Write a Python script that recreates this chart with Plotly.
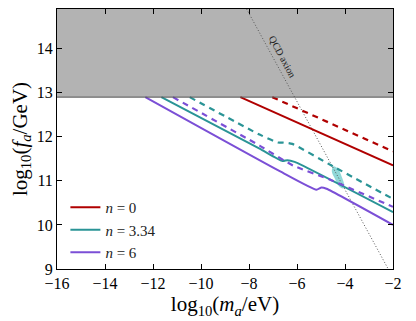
import plotly.graph_objects as go

# data (log10 m_a / eV, log10 f_a / GeV)
red_solid_x = [-8.36, -2.0]
red_solid_y = [12.9, 11.35]
red_dash_x = [-7.03, -2.0]
red_dash_y = [12.9, 11.67]

teal_solid_x = [-11.65, -7.56, -6.6, -6.4, -6.1, -2.0]
teal_solid_y = [12.9, 11.73, 11.45, 11.47, 11.43, 10.29]
teal_dash_x = [-10.47, -7.56, -6.8, -6.5, -6.2, -4.5, -2.0]
teal_dash_y = [12.9, 12.05, 11.87, 11.87, 11.84, 11.33, 10.59]

purple_solid_x = [-12.32, -6.72, -5.19, -4.98, -4.77, -2.0]
purple_solid_y = [12.9, 11.22, 10.8, 10.85, 10.82, 10.0]
purple_dash_x = [-11.17, -7.56, -6.17, -4.64, -2.0]
purple_dash_y = [12.9, 11.8, 11.35, 11.03, 10.41]

blob_x = [-4.48, -4.3, -4.14, -4.03, -4.08, -4.25, -4.42, -4.55, -4.48]
blob_y = [11.33, 11.28, 11.1, 10.9, 10.83, 10.88, 11.05, 11.22, 11.33]

qcd_x = [-8.1, -2.2]
qcd_y = [14.9, 9.0]

excluded_y = 12.9
x_range = [-16, -2]
y_range = [9, 14.9]

red = "#b00000"
teal = "#2a9496"
purple = "#7b4fd6"
serif = "Liberation Serif"

fig = go.Figure()

# grey excluded region
fig.add_shape(type="rect", xref="x", yref="y", x0=x_range[0], x1=x_range[1],
              y0=excluded_y, y1=y_range[1], fillcolor="#b3b3b3",
              line=dict(width=0), layer="below")
fig.add_shape(type="line", xref="x", yref="y", x0=x_range[0], x1=x_range[1],
              y0=excluded_y, y1=excluded_y, line=dict(color="#555555", width=1))

fig.add_trace(go.Scatter(x=blob_x, y=blob_y, mode="lines", fill="toself",
                         fillcolor="rgba(70,190,190,0.6)", line=dict(width=0, shape="spline"),
                         showlegend=False, hoverinfo="skip"))

fig.add_trace(go.Scatter(x=qcd_x, y=qcd_y, mode="lines", showlegend=False,
                         line=dict(color="#555555", width=1, dash="1px,2px")))

fig.add_trace(go.Scatter(x=red_solid_x, y=red_solid_y, mode="lines", name="<i>n</i> = 0",
                         line=dict(color=red, width=2)))
fig.add_trace(go.Scatter(x=teal_solid_x, y=teal_solid_y, mode="lines", name="<i>n</i> = 3.34",
                         line=dict(color=teal, width=2, shape="spline", smoothing=0.5)))
fig.add_trace(go.Scatter(x=purple_solid_x, y=purple_solid_y, mode="lines", name="<i>n</i> = 6",
                         line=dict(color=purple, width=2, shape="spline", smoothing=0.5)))

fig.add_trace(go.Scatter(x=red_dash_x, y=red_dash_y, mode="lines", showlegend=False,
                         line=dict(color=red, width=2.2, dash="6px,5px")))
fig.add_trace(go.Scatter(x=teal_dash_x, y=teal_dash_y, mode="lines", showlegend=False,
                         line=dict(color=teal, width=2.2, dash="6px,5px", shape="spline", smoothing=0.5)))
fig.add_trace(go.Scatter(x=purple_dash_x, y=purple_dash_y, mode="lines", showlegend=False,
                         line=dict(color=purple, width=2.2, dash="6px,5px", shape="spline", smoothing=0.5)))

fig.add_annotation(x=-6.6, y=13.83, text="QCD axion", showarrow=False, textangle=62,
                   font=dict(family=serif, size=10, color="#222222"))

axis_common = dict(showline=True, linecolor="black", linewidth=1, mirror="ticks",
                   ticks="inside", ticklen=5, tickcolor="black", showgrid=False,
                   zeroline=False, tickfont=dict(family=serif, size=16, color="black"))

fig.update_xaxes(range=x_range, tickvals=[-16, -14, -12, -10, -8, -6, -4, -2],
                 title=dict(text="log<sub>10</sub>(<i>m<sub>a</sub></i>/eV)",
                            font=dict(family=serif, size=21, color="black"), standoff=0),
                 **axis_common)
fig.update_yaxes(range=y_range, tickvals=[9, 10, 11, 12, 13, 14],
                 title=dict(text="log<sub>10</sub>(<i>f<sub>a</sub></i>/GeV)",
                            font=dict(family=serif, size=21, color="black"), standoff=8),
                 **axis_common)

# page body keeps an 8px margin, so the figure is a little smaller than the window
fig.update_layout(width=408, height=313, margin=dict(l=49, r=23, t=1, b=52),
                  plot_bgcolor="white", paper_bgcolor="white",
                  legend=dict(x=0.025, y=0.3, xanchor="left", yanchor="top",
                              bgcolor="rgba(0,0,0,0)", font=dict(family=serif, size=15, color="#222222"),
                              tracegroupgap=0))

fig.write_html("out.html")
